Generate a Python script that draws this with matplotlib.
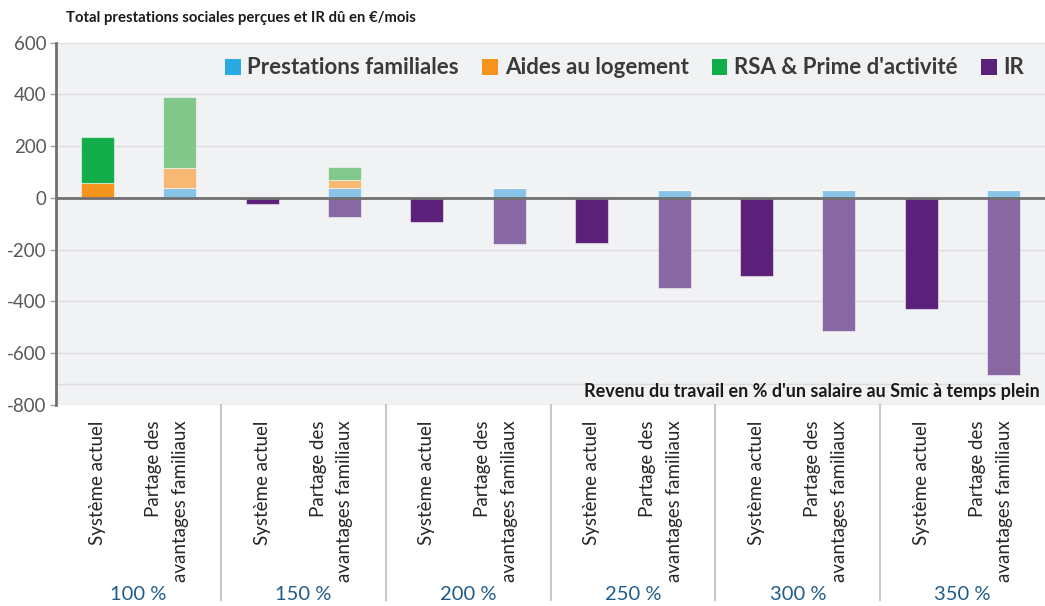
"""Prestations sociales et IR par niveau de revenu: systeme actuel vs partage."""
import matplotlib
matplotlib.use("Agg")
import matplotlib.pyplot as plt
import matplotlib.transforms as mtransforms
from matplotlib.patches import Patch
import numpy as np

plt.rcParams["font.family"] = ["Lato", "DejaVu Sans"]
plt.rcParams["axes.unicode_minus"] = False

# data (EUR / mois)
groups = ["100 %", "150 %", "200 %", "250 %", "300 %", "350 %"]
scenarios = ["Système actuel", "Partage des\navantages familiaux"]
series = ["Prestations familiales", "Aides au logement", "RSA & Prime d'activité", "IR"]

pf_actuel = [0, 0, 0, 0, 0, 0]
al_actuel = [57, 0, 0, 0, 0, 0]
rsa_actuel = [180, 0, 0, 0, 0, 0]
ir_actuel = [0, -25, -93, -175, -302, -429]

pf_partage = [37, 37, 40, 30, 30, 30]
al_partage = [78, 31, 0, 0, 0, 0]
rsa_partage = [276, 51, 0, 0, 0, 0]
ir_partage = [0, -73, -177, -346, -515, -685]

yticks = [-800, -600, -400, -200, 0, 200, 400, 600]

COL_DARK = ["#29ABE2", "#F7941E", "#12AD4B", "#5B2079"]
COL_LIGHT = ["#88C3E8", "#F7B873", "#82C88B", "#8768A3"]
BG = "#F1F2F4"
AXC = "#707070"

W, H = 1045, 606
fig = plt.figure(figsize=(W / 100, H / 100), dpi=100)
fig.patch.set_facecolor("white")
ax = fig.add_axes([56 / W, 1 - 405 / H, (W - 56) / W, (405 - 42.7) / H])
ax.set_facecolor(BG)

n = len(groups)
x_act = np.arange(n) * 2
x_par = x_act + 1
width = 0.4


def stack(xs, pf, al, rsa, ir, cols, z):
    pf = np.array(pf); al = np.array(al); rsa = np.array(rsa); ir = np.array(ir)
    kw = dict(width=width, zorder=z, linewidth=0.8)
    ax.bar(xs, pf, color=cols[0], edgecolor="#FFFFFF80", **kw)
    ax.bar(xs, al, bottom=pf, color=cols[1], edgecolor="#FFFFFF80", **kw)
    ax.bar(xs, rsa, bottom=pf + al, color=cols[2], edgecolor="#FFFFFF80", **kw)
    ax.bar(xs, ir, color=cols[3], edgecolor="#FFFFFF80", **kw)


stack(x_act, pf_actuel, al_actuel, rsa_actuel, ir_actuel, COL_DARK, 2)
stack(x_par, pf_partage, al_partage, rsa_partage, ir_partage, COL_LIGHT, 2)

ax.set_xlim(-0.5, 2 * n - 0.5)
ax.set_ylim(-800, 600)
ax.set_yticks(yticks)
ax.set_yticklabels([str(v) for v in yticks])
ax.grid(axis="y", color="#DCDCDE", linewidth=1, zorder=0)
ax.set_axisbelow(True)
ax.axhline(-720, xmax=0.955, color="#DCDCDE", linewidth=1, zorder=0)
ax.axhline(0, color=AXC, linewidth=2, zorder=3)

for s in ["top", "right", "bottom"]:
    ax.spines[s].set_visible(False)
ax.spines["left"].set_color(AXC)
ax.spines["left"].set_linewidth(2)
ax.tick_params(axis="y", length=4, width=1, color="#A0A0A0", labelsize=13.5,
               labelcolor="#595959", pad=3)

# category labels (rotated)
xt = np.sort(np.concatenate([x_act, x_par]))
ax.set_xticks(xt)
ax.set_xticklabels([scenarios[i % 2] for i in range(len(xt))], rotation=90,
                   fontsize=13.5, color="#262626", multialignment="right",
                   linespacing=1.7)
ax.tick_params(axis="x", length=0, pad=11)
shift = mtransforms.ScaledTranslation(-13 / 100, 0, fig.dpi_scale_trans)
for i, lab in enumerate(ax.get_xticklabels()):
    if i % 2 == 1:
        lab.set_transform(lab.get_transform() + shift)

# group labels and separators under the axis
trans = mtransforms.blended_transform_factory(ax.transData, ax.transAxes)
ybot = -(600 - 405) / (405 - 42.7)
ygrp = -(594 - 405) / (405 - 42.7)
for k, g in enumerate(groups):
    ax.text(x_act[k] + 0.5, ygrp, g, transform=trans, ha="center", va="center",
            fontsize=14.5, color="#1F5C8B")
    if k > 0:
        ax.plot([x_act[k] - 0.5] * 2, [0, ybot], transform=trans, color="#C8C8C8",
                linewidth=1.5, clip_on=False)

fig.text(65.7 / W, 1 - 18 / H, "Total prestations sociales perçues et IR dû en €/mois",
         fontsize=10.7, fontweight="bold", color="#1A1A1A", va="center", ha="left")
fig.text(1040 / W, 1 - 392 / H,
         "Revenu du travail en % d'un salaire au Smic à temps plein",
         fontsize=13, fontweight="bold", color="#1A1A1A", va="center", ha="right")

handles = [Patch(facecolor=c, edgecolor="none") for c in COL_DARK]
leg = fig.legend(handles, series, loc="center right", bbox_to_anchor=(1024 / W, 1 - 68 / H),
                 ncol=4, frameon=False, handlelength=0.7, handleheight=0.7,
                 handletextpad=0.3, columnspacing=1.05, borderpad=0, borderaxespad=0,
                 prop={"size": 16, "weight": "bold"})
for t in leg.get_texts():
    t.set_color("#3A3A3A")

fig.savefig("out.png", dpi=100)
